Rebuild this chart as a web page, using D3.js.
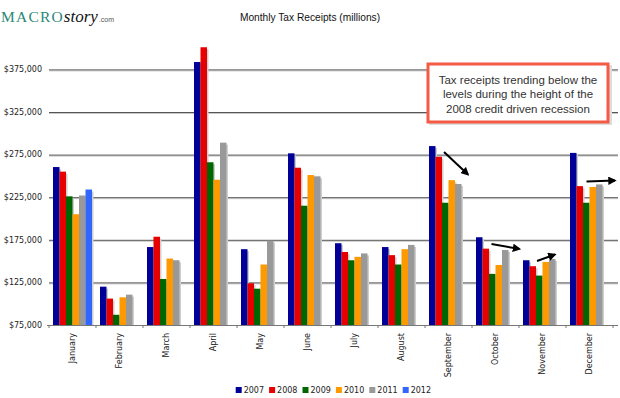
<!DOCTYPE html>
<html><head><meta charset="utf-8">
<script src="https://cdn.jsdelivr.net/npm/d3@7"></script>
<style>html,body{margin:0;padding:0;background:#fff;}svg{display:block;}</style>
</head><body>
<script>
const months = ["January","February","March","April","May","June","July","August","September","October","November","December"];
const years = ["2007","2008","2009","2010","2011","2012"];
const colors = ["#000099","#e60000","#006600","#ff9900","#999999","#3366ff"];
const v2007 = [260400,120000,166500,383700,164000,276500,171000,166500,285000,178000,151000,277000];
const v2008 = [255000,106000,178600,401000,124000,259600,160700,157000,272500,164600,144000,238000];
const v2009 = [226000,87000,129000,266000,117600,215000,151000,146000,218500,135000,133000,218500];
const v2010 = [205000,107500,153000,245500,146000,251000,155000,164000,245000,145400,149000,237000];
const v2011 = [227000,110600,151000,289000,174000,249500,159000,169000,240500,163000,152500,240000];
const v2012 = [234000,null,null,null,null,null,null,null,null,null,null,null];
const series = [v2007,v2008,v2009,v2010,v2011,v2012];
const yTicks = [75000,125000,175000,225000,275000,325000,375000];
const noteLines = ["Tax receipts trending below the","levels during the height of the","2008 credit driven recession"];
const arrows = [[444,152,468,174.5],[491.5,244,519.5,249],[537,261,555,254.5],[586.5,181.5,615,180.5]];

const W=620,H=398;
const svg=d3.select("body").append("svg").attr("width",W).attr("height",H);
const defs=svg.append("defs");
defs.append("marker").attr("id","ah").attr("viewBox","0 0 10 10").attr("refX",8).attr("refY",5)
  .attr("markerWidth",4.2).attr("markerHeight",4.2).attr("orient","auto")
  .append("path").attr("d","M0,0L10,5L0,10z").attr("fill","#000");

const x0=d3.scaleBand().domain(months).range([49,613]).padding(0);
const x1=d3.scaleBand().domain(years).range([4,43]).padding(0);
const y=d3.scaleLinear().domain([75000,375000]).range([325,69.4]);

// logo
const logo=svg.append("text").attr("x",1).attr("y",22);
logo.append("tspan").text("MACRO").attr("font-family","Liberation Serif, serif").attr("font-size",15.5).attr("letter-spacing",1.2).attr("fill","#2a8878");
logo.append("tspan").text("story").attr("font-family","Liberation Serif, serif").attr("font-style","italic").attr("font-size",17).attr("fill","#111");
logo.append("tspan").text(".com").attr("font-family","Liberation Sans, sans-serif").attr("font-size",7).attr("fill","#555").attr("dx",1);

// title
svg.append("text").attr("x",310).attr("y",21).attr("text-anchor","middle")
  .attr("font-family","Liberation Sans, sans-serif").attr("font-size",10.2).attr("fill","#111")
  .text("Monthly Tax Receipts (millions)");

// gridlines
const g=svg.append("g");
yTicks.forEach(t=>{
  if(t>75000){
    g.append("line").attr("x1",49).attr("x2",618).attr("y1",y(t)+1.5).attr("y2",y(t)+1.5).attr("stroke","#c8c8c8").attr("stroke-width",1);
    g.append("line").attr("x1",49).attr("x2",618).attr("y1",y(t)+0.5).attr("y2",y(t)+0.5).attr("stroke","#555").attr("stroke-width",1);
  }
  g.append("text").attr("x",42).attr("y",y(t)).attr("dy","0.35em").attr("text-anchor","end")
   .attr("font-family","DejaVu Sans, sans-serif").attr("font-size",8).attr("fill","#222")
   .text("$"+d3.format(",")(t));
});

// bars
const bars=svg.append("g");
months.forEach((m,i)=>{
  series.forEach((s,j)=>{
    const v=s[i]; if(v==null) return;
    const bx=x0(m)+x1(years[j]), by=y(v), bw=x1.bandwidth(), bh=325-y(v);
    bars.append("rect").attr("x",bx+1.5).attr("y",by+2).attr("width",bw).attr("height",bh-2).attr("fill","#cfcfcf");
  });
  series.forEach((s,j)=>{
    const v=s[i]; if(v==null) return;
    const bx=x0(m)+x1(years[j]), by=y(v), bw=x1.bandwidth(), bh=325-y(v);
    bars.append("rect").attr("x",bx).attr("y",by).attr("width",bw).attr("height",bh).attr("fill",colors[j]);
  });
});

// x axis
svg.append("line").attr("x1",47).attr("x2",618).attr("y1",325.5).attr("y2",325.5).attr("stroke","#777").attr("stroke-width",1);
d3.range(13).forEach(k=>{
  const tx=49+k*x0.bandwidth();
  svg.append("line").attr("x1",tx).attr("x2",tx).attr("y1",325).attr("y2",328).attr("stroke","#777");
});
months.forEach(m=>{
  const cx=x0(m)+x0.bandwidth()/2;
  svg.append("text").attr("transform",`translate(${cx},333) rotate(-90)`).attr("text-anchor","end").attr("dy","0.35em")
    .attr("font-family","DejaVu Sans, sans-serif").attr("font-size",8).attr("fill","#222").text(m);
});

// legend
const leg=svg.append("g");
years.forEach((yr,j)=>{
  const lx=235.7+j*33.4;
  leg.append("rect").attr("x",lx).attr("y",387).attr("width",6).attr("height",6).attr("fill",colors[j]);
  leg.append("text").attr("x",lx+8).attr("y",390).attr("dy","0.35em")
   .attr("font-family","DejaVu Sans, sans-serif").attr("font-size",8).attr("fill","#222").text(yr);
});

// annotation
svg.append("rect").attr("x",429).attr("y",65).attr("width",183).attr("height",60).attr("fill","#ddd");
svg.append("rect").attr("x",428).attr("y",64).attr("width",180).attr("height",58).attr("fill","#fff").attr("stroke","#f45a44").attr("stroke-width",3);
noteLines.forEach((l,k)=>{
  svg.append("text").attr("x",518).attr("y",84+k*14.3).attr("text-anchor","middle")
   .attr("font-family","Liberation Sans, sans-serif").attr("font-size",11.5).attr("fill","#333").text(l);
});
arrows.forEach(a=>{
  svg.append("line").attr("x1",a[0]).attr("y1",a[1]).attr("x2",a[2]).attr("y2",a[3])
   .attr("stroke","#000").attr("stroke-width",2).attr("marker-end","url(#ah)");
});
</script>
</body></html>
